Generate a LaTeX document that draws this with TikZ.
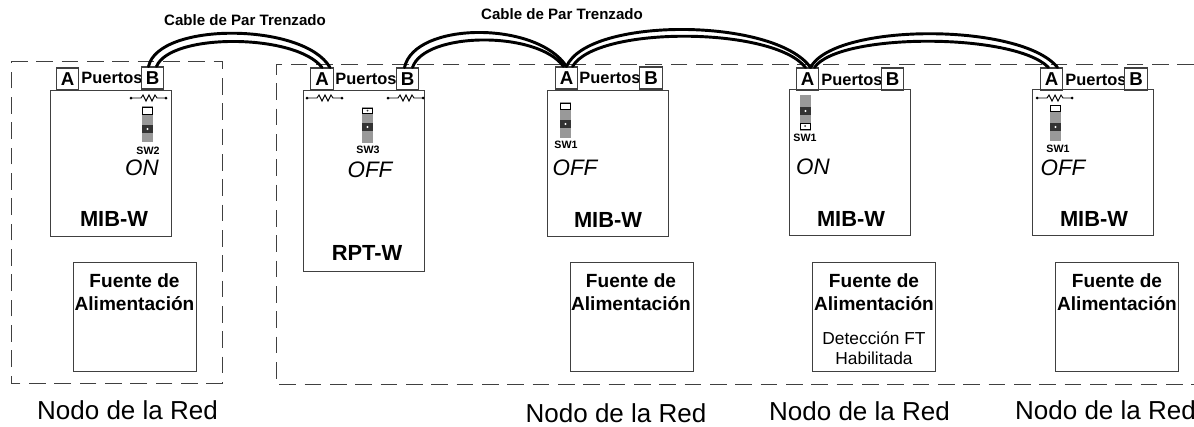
\documentclass[tikz,border=0pt]{standalone}
\usepackage{fontspec}
\setmainfont{Liberation Sans}
\usepackage{tikz}
\definecolor{darkline}{rgb}{0.25, 0.25, 0.25}
\definecolor{switchgray}{rgb}{0.6, 0.6, 0.6}
\definecolor{switchdark}{rgb}{0.2, 0.2, 0.2}
\tikzset{
	unitbox/.style={draw=darkline, line width=0.8pt, fill=white, inner sep=0pt, anchor=north west, minimum width=91pt, align=center},
	mibbox/.style={unitbox, minimum height=109.5pt},
	rptbox/.style={unitbox, minimum height=136pt},
	powerbox/.style={unitbox, minimum width=92pt, minimum height=82pt},
	portbox/.style={draw=darkline, line width=0.8pt, fill=white, inner sep=0pt, minimum width=17pt, minimum height=16.5pt, font=\fontsize{14}{14}\selectfont\bfseries},
	porttext/.style={font=\fontsize{12.3}{12.3}\selectfont\bfseries, inner sep=0pt},
	unittext/.style={font=\fontsize{16.4}{16.4}\selectfont\bfseries, inner sep=0pt},
	powertext/.style={font=\fontsize{14.3}{17}\selectfont\bfseries, align=center, inner sep=0pt},
	detecttext/.style={font=\fontsize{13}{15}\selectfont, align=center, inner sep=0pt},
	statetext/.style={font=\fontsize{16.8}{16.8}\selectfont\itshape, inner sep=0pt},
	swtext/.style={font=\fontsize{8}{8}\selectfont\bfseries, inner sep=0pt},
	cabletext/.style={font=\fontsize{11.3}{11}\selectfont\bfseries, inner sep=0pt},
	nodetext/.style={font=\fontsize{19.5}{20}\selectfont, inner sep=0pt},
	zone/.style={darkline, line width=0.6pt, dash pattern=on 12.5pt off 6.5pt},
	cable/.style={line width=2.2pt, line cap=round},
}
\begin{document}
\begin{tikzpicture}[x=0.75pt, y=-0.75pt]
		\useasboundingbox (0,0) rectangle (1194,426);
		\draw [zone] (11,61)--(222,61)--(222,383)--(11,383)--cycle;
		\draw [zone] (1194,64)--(276,64)--(276,384)--(1194,384);

		\node [mibbox] (mibone) at (50,90) {};
		\node [rptbox] (rptone) at (303,90) {};
		\node [mibbox] (mibtwo) at (547,90) {};
		\node [mibbox] (mibthree) at (789,89) {};
		\node [mibbox] (mibfour) at (1032,89) {};

		\node [powerbox] (powerone) at (73,262) {};
		\node [powerbox] (powertwo) at (570,262) {};
		\node [powerbox] (powerthree) at (812,262) {};
		\node [powerbox] (powerfour) at (1055,262) {};

		\foreach \i/\j in {112/78,366/79,610/78,852/80,1096/80}{
			\node [porttext] at (\i,\j) {Puertos};
		}
		\node [portbox] (aone) at (67.5,79) {A};
		\node [portbox] (bone) at (152.5,78) {B};
		\node [portbox] (arpt) at (322,79) {A};
		\node [portbox] (brpt) at (407.5,79) {B};
		\node [portbox] (atwo) at (566.5,78) {A};
		\node [portbox] (btwo) at (651,78) {B};
		\node [portbox] (athree) at (807.5,79) {A};
		\node [portbox] (bthree) at (892.5,79) {B};
		\node [portbox] (afour) at (1051.5,79) {A};
		\node [portbox] (bfour) at (1136,79) {B};

		\draw [cable] ([shift={(-4,0)}]bone.north) .. controls +(10,-45) and +(-26,-45) .. ([shift={(8,0)}]arpt.north);
		\draw [cable] ([shift={(4,0)}]bone.north) .. controls +(14,-34) and +(-26,-34) .. ([shift={(0,0)}]arpt.north);
		\draw [cable] ([shift={(-3,0)}]brpt.north) .. controls +(10,-46) and +(-30,-46) .. ([shift={(0,0)}]atwo.north);
		\draw [cable] ([shift={(5,0)}]brpt.north) .. controls +(12,-36) and +(-26,-36) .. ([shift={(-3,0)}]atwo.north);
		\draw [cable] ([shift={(0,0)}]atwo.north) .. controls +(22,-50) and +(-36,-50) .. ([shift={(3,0)}]athree.north);
		\draw [cable] ([shift={(6,0)}]atwo.north) .. controls +(24,-41) and +(-32,-41) .. ([shift={(-2,0)}]athree.north);
		\draw [cable] ([shift={(3,0)}]athree.north) .. controls +(24,-45) and +(-36,-45) .. ([shift={(6,0)}]afour.north);
		\draw [cable] ([shift={(7,0)}]athree.north) .. controls +(24,-35) and +(-34,-35) .. ([shift={(-3,0)}]afour.north);

		\foreach \i/\j/\k/\l/\m in {142/106/125/107/114,362/107/123/108/113,560/102/120/103/109,800/95/107/123/129,1050/105/123/105/111}{
			\fill [switchgray] (\i,\j) rectangle (\i+11,\j+36);
			\draw [black, line width=0.6pt, fill=white] (\i+0.5,\l) rectangle (\i+10.5,\m);
			\fill [switchdark] (\i,\k) rectangle (\i+11,\k+8);
			\fill [white] (\i+5.5,\k+4) circle (1.2);
		}
		\fill [switchdark] (367.5,110.5) circle (1);
		\fill [switchdark] (805,126) circle (1);

		\foreach \i in {131,307,388,1037}{
			\draw [line width=0.7pt] (\i,98)--(\i+10,98)--(\i+12,95)--(\i+15,101)--(\i+18,95)--(\i+21,101)--(\i+24,95)--(\i+26,98)--(\i+35,98);
			\fill (\i,98) circle (1.5);
			\fill (\i+35,98) circle (1.5);
		}

		\node [swtext] at (148,151) {SW2};
		\node [swtext] at (368,150) {SW3};
		\node [swtext] at (566,145) {SW1};
		\node [swtext] at (805,138) {SW1};
		\node [swtext] at (1058,149) {SW1};

		\node [statetext] at (142,168) {ON};
		\node [statetext] at (370,170) {OFF};
		\node [statetext] at (575,168) {OFF};
		\node [statetext] at (813,167) {ON};
		\node [statetext] at (1063,168) {OFF};

		\node [unittext] at (114,219) {MIB-W};
		\node [unittext] at (367,253) {RPT-W};
		\node [unittext] at (608,220) {MIB-W};
		\node [unittext] at (851,219) {MIB-W};
		\node [unittext] at (1094,219) {MIB-W};

		\foreach \i in {134.5,631,874,1117}{
			\node [powertext] at (\i,292) {Fuente de\\Alimentación};
		}
		\node [detecttext] at (874,348) {Detección FT\\Habilitada};

		\node [cabletext] at (245,20) {Cable de Par Trenzado};
		\node [cabletext] at (562,14) {Cable de Par Trenzado};

		\node [nodetext] at (127.5,410) {Nodo de la Red};
		\node [nodetext] at (616,413) {Nodo de la Red};
		\node [nodetext] at (859.5,411) {Nodo de la Red};
		\node [nodetext] at (1105.5,410) {Nodo de la Red};
	\end{tikzpicture}
\end{document}
